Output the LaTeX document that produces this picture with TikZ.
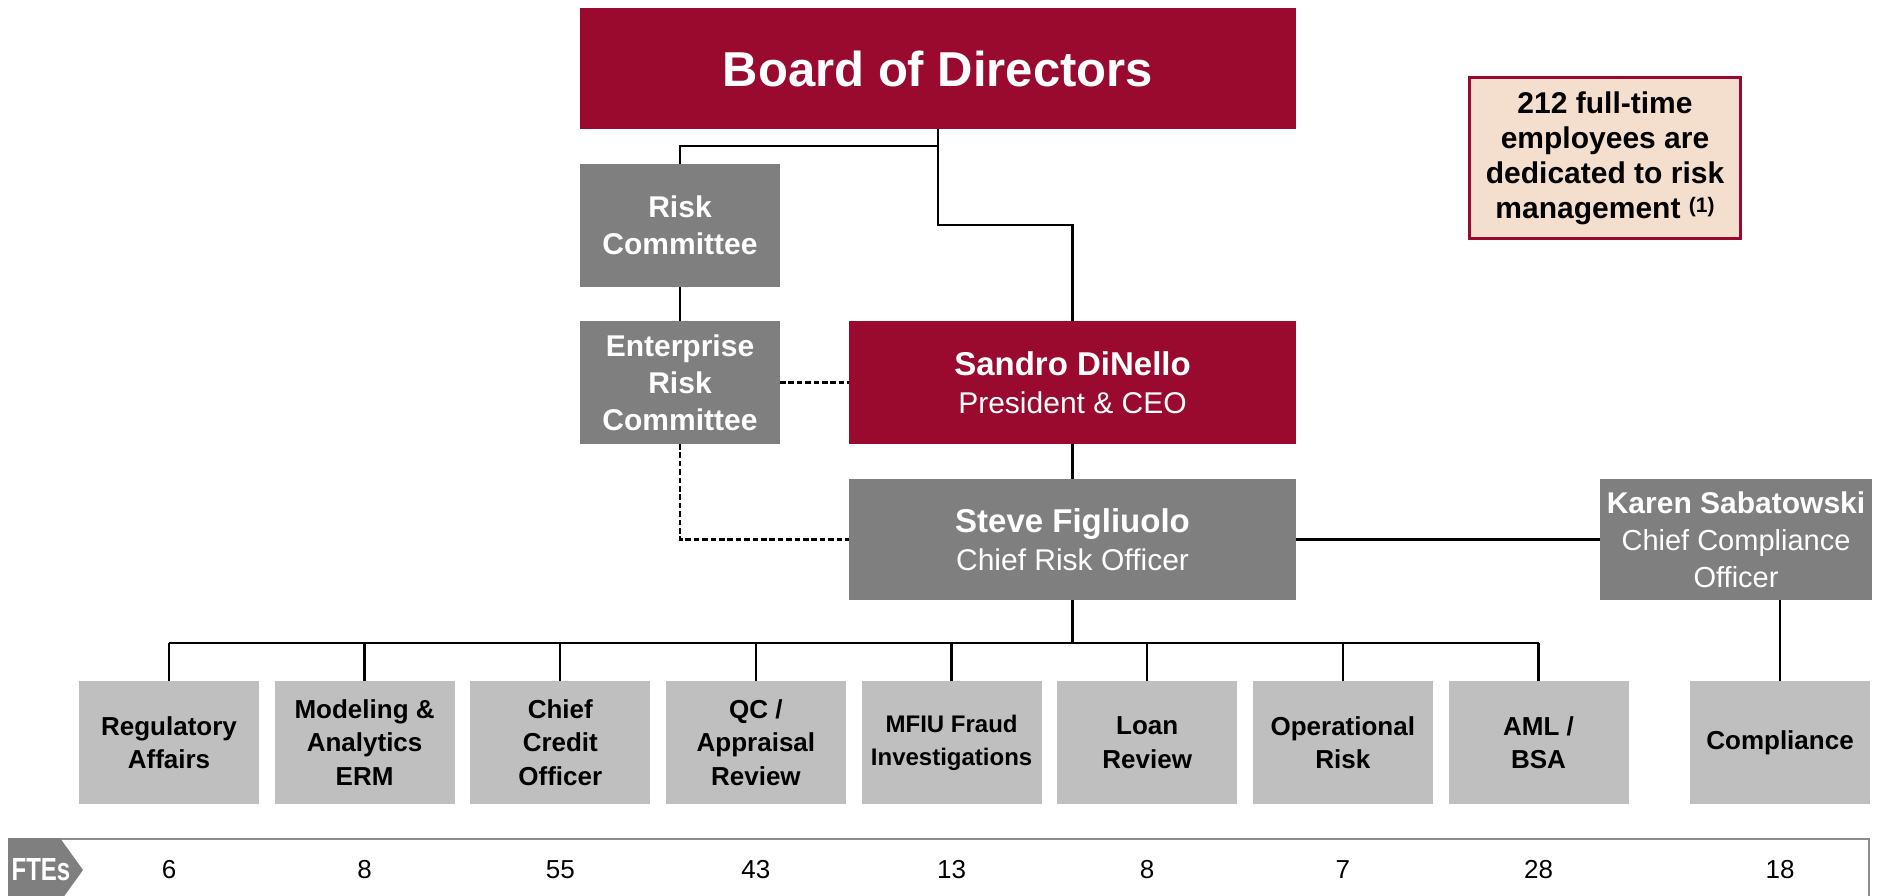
\documentclass[tikz,border=0pt]{standalone}
\usepackage{fontspec}
\setmainfont{Liberation Sans}
\newfontfamily\ftefont[FakeStretch=0.75]{Liberation Sans}
\definecolor{crimson}{HTML}{990A2E}
\definecolor{darkbox}{HTML}{7F7F7F}
\definecolor{lightbox}{HTML}{BFBFBF}
\definecolor{peach}{HTML}{F4DFCF}
\definecolor{barline}{HTML}{8C8C8C}

\begin{document}
\begin{tikzpicture}[x=0.5pt,y=-0.5pt,
  box/.style={rectangle,inner sep=0pt,outer sep=0pt,align=center},
  redbox/.style={box,fill=crimson,text=white},
  greybox/.style={box,fill=darkbox,text=white},
  committee/.style={greybox,minimum width=100pt,minimum height=61.5pt,
    font=\bfseries\fontsize{15}{18.5}\selectfont},
  leader/.style={minimum width=223.5pt,font=\fontsize{15}{19}\selectfont},
  unitbox/.style={box,fill=lightbox,text=black,minimum width=90pt,minimum height=61.5pt,
    font=\bfseries\fontsize{13}{16.75}\selectfont},
  link/.style={draw=black,line width=1.15pt},
  dotlink/.style={link,dash pattern=on 2.8pt off 1.4pt},
  bus/.style={link,line width=1.4pt},
  fte/.style={inner sep=0pt,font=\fontsize{13}{15}\selectfont}
]
\useasboundingbox (0,0) rectangle (1877,895);

% governance
\node[redbox,minimum width=358pt,minimum height=60.5pt,
  font=\bfseries\fontsize{24.5}{28}\selectfont] (board) at (938,68.5) {Board of Directors};
\node[committee] (rc) at (680,225.5) {Risk\\Committee};
\node[committee] (erc) at (680,382.5) {Enterprise\\Risk\\Committee};

% executives
\node[redbox,leader,minimum height=61.5pt] (ceo) at (1072.5,382.5)
  {{\bfseries\fontsize{16.5}{19}\selectfont Sandro DiNello}\\President \& CEO};
\node[greybox,leader,minimum height=60.5pt] (cro) at (1072.5,539.5)
  {{\bfseries\fontsize{16.5}{19}\selectfont Steve Figliuolo}\\Chief Risk Officer};
\node[greybox,minimum width=136pt,minimum height=60.5pt,
  font=\fontsize{14.5}{18.5}\selectfont] (cco) at (1736,539.5)
  {{\bfseries\fontsize{15}{18.5}\selectfont Karen Sabatowski}\\Chief Compliance\\Officer};

% headcount call-out
\node[box,fill=peach,draw=crimson,line width=1.5pt,minimum width=135.5pt,minimum height=80.5pt,
  font=\bfseries\fontsize{15}{17.5}\selectfont] (note) at (1605,158)
  {212 full-time\\employees are\\dedicated to risk\\management {\fontsize{10.5}{11}\selectfont\raisebox{0.55ex}{(1)}}};

% risk units
\node[unitbox] (u1) at (169,742.5) {Regulatory\\Affairs};
\node[unitbox] (u2) at (364.6,742.5) {Modeling \&\\Analytics\\ERM};
\node[unitbox] (u3) at (560.3,742.5) {Chief\\Credit\\Officer};
\node[unitbox] (u4) at (755.9,742.5) {QC /\\Appraisal\\Review};
\node[unitbox,font=\bfseries\fontsize{12}{16.5}\selectfont] (u5) at (951.6,742.5) {MFIU Fraud\\Investigations};
\node[unitbox] (u6) at (1147.2,742.5) {Loan\\Review};
\node[unitbox] (u7) at (1342.8,742.5) {Operational\\Risk};
\node[unitbox] (u8) at (1538.5,742.5) {AML /\\BSA};
\node[unitbox] (comp) at (1780,742.5) {Compliance};

% reporting lines
\coordinate (jrc) at (938,146);
\coordinate (jceo) at (938,225);
\draw[link] (board.south) -- (jceo) -| (ceo.north);
\draw[link] (jrc) -| (rc.north);
\draw[link] (rc.south) -- (erc.north);
\draw[dotlink] (erc.east) -- (ceo.west);
\draw[dotlink] (erc.south) |- (cro.west);
\draw[link] (ceo.south) -- (cro.north);
\draw[link] (cro.east) -- (cco.west);
\draw[link] (comp.north) -- (comp.north |- cco.south);
\coordinate (busc) at (1072.5,643);
\draw[link] (cro.south) -- (busc);
\draw[bus] (u1.north |- busc) -- (u8.north |- busc);
\foreach \i in {1,...,8}
  \draw[link] (u\i.north) -- (u\i.north |- busc);

% FTE strip
\draw[barline,line width=1.2pt] (8,839) -- (1869,839) -- (1869,896);
\fill[darkbox] (8,838) -- (60,838) -- (83,870) -- (60,902) -- (8,902) -- cycle;
\node[inner sep=0pt,text=white,font=\ftefont\bfseries\fontsize{16}{18}\selectfont] (ftes) at (41,870) {FTEs};
\node[fte] (f1) at (u1 |- 0,870) {6};
\node[fte] (f2) at (u2 |- 0,870) {8};
\node[fte] (f3) at (u3 |- 0,870) {55};
\node[fte] (f4) at (u4 |- 0,870) {43};
\node[fte] (f5) at (u5 |- 0,870) {13};
\node[fte] (f6) at (u6 |- 0,870) {8};
\node[fte] (f7) at (u7 |- 0,870) {7};
\node[fte] (f8) at (u8 |- 0,870) {28};
\node[fte] (f9) at (comp |- 0,870) {18};
\end{tikzpicture}
\end{document}
